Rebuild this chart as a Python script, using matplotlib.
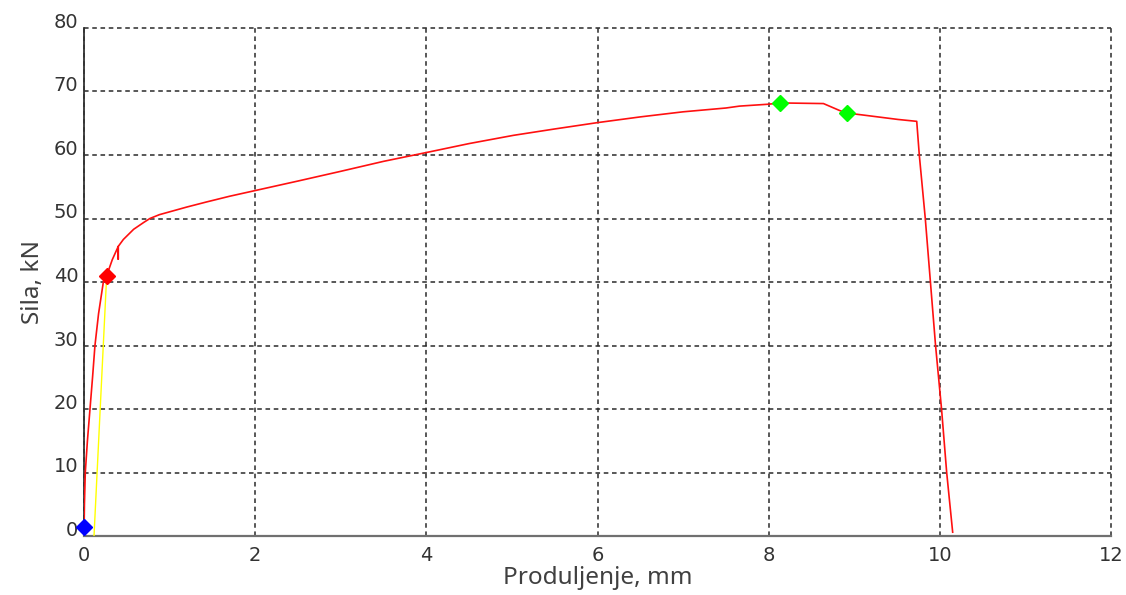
import matplotlib
matplotlib.use("Agg")
import matplotlib.pyplot as plt

# Force-elongation curve (mm, kN)
curve_x = [0.0, 0.005, 0.015, 0.04, 0.07, 0.10, 0.128, 0.17, 0.226, 0.265, 0.33, 0.40,
           0.40, 0.40, 0.46, 0.58, 0.70, 0.77, 0.88, 1.04, 1.2, 1.43, 1.7, 2.0, 2.5, 2.99,
           3.5, 4.04, 4.5, 5.02, 5.5, 6.0, 6.5, 7.0, 7.5, 7.66, 8.0,
           8.13, 8.64, 8.83, 8.92, 9.1, 9.51, 9.73, 9.76, 9.83, 9.89, 9.95, 10.02, 10.08, 10.15]
curve_y = [0.0, 5.0, 10.0, 15.0, 20.0, 25.0, 30.0, 35.0, 40.0, 41.0, 43.5, 45.6,
           43.6, 45.6, 46.7, 48.3, 49.4, 50.0, 50.6, 51.2, 51.8, 52.6, 53.5, 54.4, 55.9, 57.4,
           59.0, 60.5, 61.8, 63.1, 64.1, 65.1, 66.0, 66.8, 67.4, 67.7, 68.0,
           68.2, 68.1, 67.0, 66.6, 66.3, 65.6, 65.3, 60.0, 50.0, 40.0, 30.0, 20.0, 10.0, 0.6]

# Offset (yield) line
yield_x = [0.117, 0.265]
yield_y = [0.0, 41.0]

# Marked points
start_pt = (0.0, 1.4)
yield_pt = (0.265, 41.0)
max_pts_x = [8.13, 8.92]
max_pts_y = [68.2, 66.6]

x_ticks = [0, 2, 4, 6, 8, 10, 12]
y_ticks = [0, 10, 20, 30, 40, 50, 60, 70, 80]

fig = plt.figure(figsize=(11.26, 5.95), dpi=100)
ax = fig.add_axes([84/1126, 1 - 536/595, (1111 - 84)/1126, (536 - 28)/595])

ax.set_xlim(0, 12)
ax.set_ylim(0, 80)
ax.set_xticks(x_ticks)
ax.set_yticks(y_ticks)

ax.grid(True, color="#2a2a2a", linestyle=(0, (3, 2.4)), linewidth=1.1)
for gl in ax.get_xgridlines() + ax.get_ygridlines():
    gl.set_clip_on(False)
ax.set_axisbelow(True)

ax.spines["top"].set_visible(False)
ax.spines["right"].set_visible(False)
ax.spines["left"].set_color("#333333")
ax.spines["left"].set_linewidth(1.3)
ax.spines["bottom"].set_color("#707070")
ax.spines["bottom"].set_linewidth(1.6)

ax.tick_params(axis="both", length=0, labelsize=14, labelcolor="#333333")
ax.tick_params(axis="y", pad=4)
ax.tick_params(axis="x", pad=7)
for lab in ax.get_yticklabels():
    lab.set_verticalalignment("baseline")

ax.plot(curve_x, curve_y, color="#ff1010", linewidth=1.2, zorder=3)
ax.plot(yield_x, yield_y, color="#ffff00", linewidth=1.0, zorder=4)
ax.plot([start_pt[0]], [start_pt[1]], marker="D", color="#0000ff", markersize=8,
        linestyle="none", zorder=5, clip_on=False)
ax.plot([yield_pt[0]], [yield_pt[1]], marker="D", color="#ff0000", markersize=8,
        linestyle="none", zorder=5)
ax.plot(max_pts_x, max_pts_y, marker="D", color="#00ff00", markersize=8,
        linestyle="none", zorder=5)

ax.set_xlabel("Produljenje, mm", fontsize=17.5, color="#404040", family="Noto Sans", labelpad=1)
ax.set_ylabel("Sila, kN", fontsize=17.5, color="#404040", family="Noto Sans", labelpad=6)

fig.savefig("out.png", dpi=100)
